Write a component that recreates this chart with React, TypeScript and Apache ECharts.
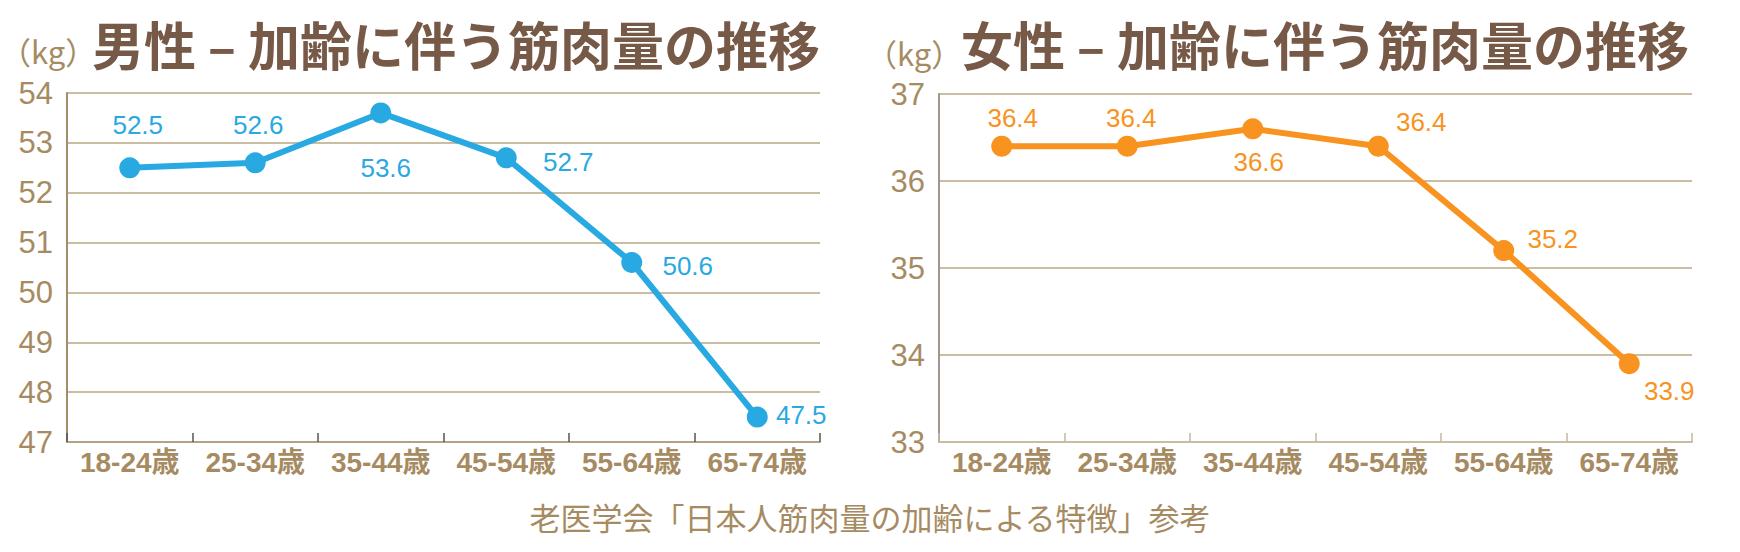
import { useEffect, useRef } from 'react';
import * as echarts from 'echarts';

// 年齢区分
const ageGroups = ['18-24歳', '25-34歳', '35-44歳', '45-54歳', '55-64歳', '65-74歳'];
// 筋肉量 (kg)
const maleMuscle = [52.5, 52.6, 53.6, 52.7, 50.6, 47.5];
const femaleMuscle = [36.4, 36.4, 36.6, 36.4, 35.2, 33.9];
// 目盛り [min, max, interval]
const maleAxis = [47, 54, 1];
const femaleAxis = [33, 37, 1];

const maleTitle = '男性 – 加齢に伴う筋肉量の推移';
const femaleTitle = '女性 – 加齢に伴う筋肉量の推移';
const unitText = '（kg）';
const sourceText = '老医学会「日本人筋肉量の加齢による特徴」参考';

// ラベルの位置ずらし (点の中心から)
const maleLabelOffsets = [[8, -43], [3, -38], [5, 55], [62, 4], [56, 3], [44, -2]];
const femaleLabelOffsets = [[11, -28], [4, -28], [6, 33], [43, -24], [49, -12], [40, 27]];

const BLUE = '#29a9e1';
const ORANGE = '#f7931e';
const TAN = '#a68b62';
const BROWN = '#775947';
const NUM_FONT = '"Liberation Sans", Arial, "Noto Sans CJK JP", sans-serif';
const JP_FONT = '"Noto Sans CJK JP", sans-serif';

const makeXAxis = (gridIndex: number, tickColor: string, lineColor: string) => ({
  type: 'category' as const,
  gridIndex,
  data: ageGroups,
  boundaryGap: true,
  axisLine: { show: true, lineStyle: { color: lineColor, width: 2 } },
  axisTick: { show: true, inside: true, length: 9, lineStyle: { color: tickColor, width: 1.5 } },
  axisLabel: {
    interval: 0,
    color: TAN,
    fontSize: 28,
    fontWeight: 'bold' as const,
    fontFamily: NUM_FONT,
    margin: 6,
  },
  splitLine: { show: false },
});

const makeYAxis = (gridIndex: number, range: number[], lineColor: string) => ({
  type: 'value' as const,
  gridIndex,
  min: range[0],
  max: range[1],
  interval: range[2],
  axisLine: { show: true, lineStyle: { color: lineColor, width: 2 } },
  axisTick: { show: false },
  axisLabel: { color: TAN, fontSize: 31, fontFamily: NUM_FONT, margin: 14 },
  splitLine: { show: true, lineStyle: { color: '#cbbda2', width: 2 } },
});

const makeSeries = (index: number, values: number[], offsets: number[][], color: string) => ({
  type: 'line' as const,
  xAxisIndex: index,
  yAxisIndex: index,
  data: values.map((v, i) => ({ value: v, label: { offset: offsets[i] } })),
  symbol: 'circle',
  symbolSize: 21,
  itemStyle: { color },
  lineStyle: { color, width: 6 },
  label: {
    show: true,
    position: 'inside' as const,
    color,
    fontSize: 26,
    fontFamily: NUM_FONT,
  },
  z: 3,
});

export default function App() {
  const chartRef = useRef<HTMLDivElement>(null);

  useEffect(() => {
    if (!chartRef.current) return;
    const chart = echarts.init(chartRef.current, undefined, { renderer: 'svg' });

    chart.setOption({
      animation: false,
      backgroundColor: '#ffffff',
      grid: [
        { left: 67, right: 920, top: 93, bottom: 110 },
        { left: 939, right: 48, top: 94, bottom: 110 },
      ],
      xAxis: [makeXAxis(0, '#555555', '#b3a283'), makeXAxis(1, '#c4b79e', '#c8bca5')],
      yAxis: [makeYAxis(0, maleAxis, '#a48d6c'), makeYAxis(1, femaleAxis, '#a0968a')],
      series: [
        makeSeries(0, maleMuscle, maleLabelOffsets, BLUE),
        makeSeries(1, femaleMuscle, femaleLabelOffsets, ORANGE),
      ],
      graphic: [
        {
          type: 'text',
          style: { text: unitText, x: 0, y: 50, fill: TAN, fontSize: 31, fontFamily: JP_FONT, textVerticalAlign: 'middle' },
        },
        {
          type: 'text',
          style: { text: maleTitle, x: 92, y: 43, fill: BROWN, fontSize: 52, fontWeight: 'bold', fontFamily: JP_FONT, textVerticalAlign: 'middle' },
        },
        {
          type: 'text',
          style: { text: unitText, x: 866, y: 52, fill: TAN, fontSize: 31, fontFamily: JP_FONT, textVerticalAlign: 'middle' },
        },
        {
          type: 'text',
          style: { text: femaleTitle, x: 961, y: 43, fill: BROWN, fontSize: 52, fontWeight: 'bold', fontFamily: JP_FONT, textVerticalAlign: 'middle' },
        },
        {
          type: 'text',
          style: { text: sourceText, x: 870, y: 516, fill: TAN, fontSize: 31, fontFamily: JP_FONT, textAlign: 'center', textVerticalAlign: 'middle' },
        },
      ],
    });

    return () => {
      chart.dispose();
    };
  }, []);

  return (
    <div
      ref={chartRef}
      style={{ position: 'absolute', left: 0, top: 0, width: 1740, height: 552 }}
    />
  );
}
